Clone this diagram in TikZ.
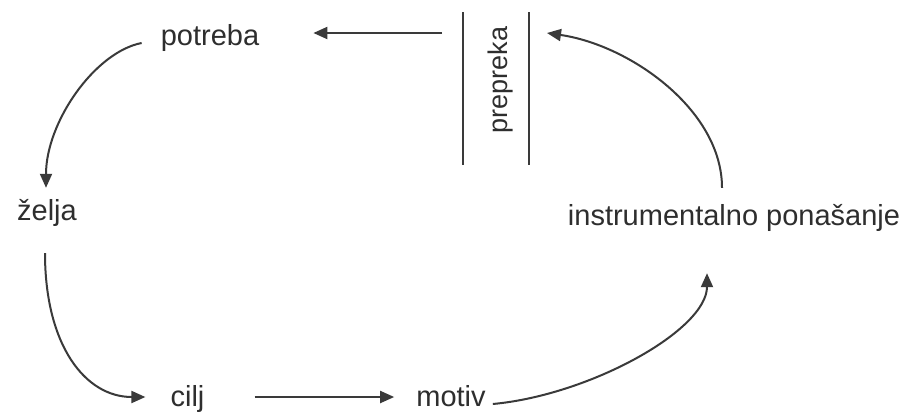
\documentclass[tikz,border=0pt]{standalone}
\usepackage{fontspec}
\setmainfont{Liberation Sans}
\usetikzlibrary{arrows.meta}
\definecolor{ink}{HTML}{2E2E2E}
\definecolor{linegray}{HTML}{3A3A3A}
\begin{document}
\begin{tikzpicture}[x=1pt,y=-1pt,
  lbl/.style={inner sep=0pt, text=ink, text height=20pt, text depth=6pt, anchor=base,
     font=\fontsize{29}{32}\selectfont},
  conn/.style={draw=linegray, line width=2pt, -{Triangle[length=14pt,width=12pt]}},
  bar/.style={draw=linegray, line width=2pt}]
\useasboundingbox (0,0) rectangle (912,418);
\fill[white] (0,0) rectangle (912,418);
% nodes
\node[lbl] (potreba) at (210,45) {potreba};
\node[lbl] (zelja) at (47,220) {želja};
\node[lbl] (cilj) at (187.5,406) {cilj};
\node[lbl] (motiv) at (451,406) {motiv};
\node[lbl] (instr) at (734,225) {instrumentalno ponašanje};
\node[inner sep=0pt, text=ink, rotate=90, font=\fontsize{27}{30}\selectfont] (prepreka) at (501,80) {prepreka};
% barrier bars
\coordinate (b1t) at (463,12);
\coordinate (b1b) at (463,165);
\coordinate (b2t) at (529,12);
\coordinate (b2b) at (529,165);
\draw[bar] (b1t) -- (b1b);
\draw[bar] (b2t) -- (b2b);
% connectors
\draw[conn] ([shift={(-21,21)}]b1t) -- ([shift={(54,-5)}]potreba.east);
\draw[conn] ([shift={(-19,5)}]potreba.west) .. controls (95,52) and (46,122) .. ([shift={(-1,-12)}]zelja.north);
\draw[conn] ([shift={(-2,27)}]zelja.south) .. controls (45,345) and (85,397) .. ([shift={(-25,-2)}]cilj.west);
\draw[conn] ([shift={(50,-2)}]cilj.east) -- ([shift={(-22,-2)}]motiv.west);
\draw[conn] ([shift={(7,5)}]motiv.east) .. controls (590,395) and (707,330) .. ([shift={(-27,42)}]instr.south);
\draw[conn] ([shift={(-12,-17)}]instr.north) .. controls (722,110) and (630,45) .. ([shift={(18,21)}]b2t);
\end{tikzpicture}
\end{document}
